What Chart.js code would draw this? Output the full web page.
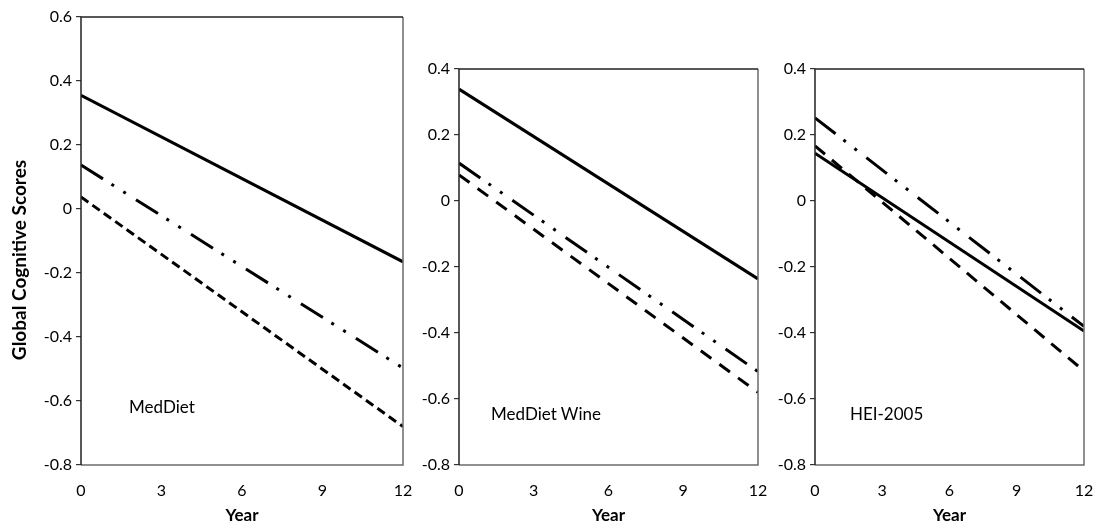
<!DOCTYPE html>
<html>
<head>
<meta charset="utf-8">
<script src="https://cdn.jsdelivr.net/npm/chart.js@4/dist/chart.umd.min.js"></script>
<style>
  body { margin:0; background:#fff; width:1099px; height:527px; position:relative; overflow:hidden; font-family: Lato, sans-serif; }
  canvas { position:absolute; top:0; }
  .lab { position:absolute; font-size:17px; color:#000; line-height:20px; }
</style>
</head>
<body>
<canvas id="c1" width="420" height="527" style="left:0px"></canvas>
<canvas id="c2" width="355" height="527" style="left:420px"></canvas>
<canvas id="c3" width="324" height="527" style="left:775px"></canvas>
<div class="lab" style="left:129px;top:397px">MedDiet</div>
<div class="lab" style="left:491px;top:404px">MedDiet Wine</div>
<div class="lab" style="left:850px;top:404px">HEI-2005</div>
<script>
// years of follow-up (line end points)
var years = [0, 12];
var xTicks = [0, 3, 6, 9, 12];

// MedDiet panel
var medSolid   = [0.355, -0.165];
var medDashDot = [0.1375, -0.497];
var medDashed  = [0.0375, -0.68];

// MedDiet Wine panel
var wineSolid   = [0.339, -0.236];
var wineDashDot = [0.115, -0.517];
var wineDashed  = [0.079, -0.58];

// HEI-2005 panel
var heiSolid   = [0.145, -0.394];
var heiDashDot = [0.252, -0.38];
var heiDashed  = [0.167, -0.515];

var boxPlugin = {
  id: 'box',
  afterDraw: function(chart) {
    var ctx = chart.ctx, a = chart.chartArea;
    ctx.save();
    ctx.lineWidth = 1.5;
    ctx.strokeStyle = '#6b6b6b';
    ctx.beginPath();
    ctx.moveTo(a.right, a.top); ctx.lineTo(a.right, a.bottom); ctx.lineTo(a.left, a.bottom);
    ctx.stroke();
    ctx.strokeStyle = '#222';
    ctx.beginPath();
    ctx.moveTo(a.left, a.bottom); ctx.lineTo(a.left, a.top); ctx.lineTo(a.right, a.top);
    ctx.stroke();
    // y axis title, only on the first panel
    if (chart.canvas.id === 'c1') {
      ctx.translate(20, 260);
      ctx.rotate(-Math.PI / 2);
      ctx.fillStyle = '#000';
      ctx.font = 'bold 19px Lato';
      ctx.textAlign = 'center';
      ctx.textBaseline = 'middle';
      ctx.fillText('Global Cognitive Scores', 0, 0);
    }
    ctx.restore();
  }
};

function ds(vals, dash) {
  return {
    data: years.map(function(x, i) { return {x: x, y: vals[i]}; }),
    borderColor: '#000',
    borderWidth: 3,
    borderDash: dash,
    borderCapStyle: 'butt',
    pointRadius: 0,
    fill: false,
    tension: 0
  };
}

function makeChart(id, sets, yMax, yWidth, pad) {
  var ctx = document.getElementById(id).getContext('2d');
  return new Chart(ctx, {
    type: 'line',
    data: { datasets: sets },
    plugins: [boxPlugin],
    options: {
      responsive: false,
      animation: false,
      layout: { padding: pad },
      plugins: { legend: { display: false }, tooltip: { enabled: false } },
      scales: {
        x: {
          type: 'linear', min: 0, max: 12,
          afterBuildTicks: function(s) { s.ticks = xTicks.map(function(v) { return {value: v}; }); },
          afterFit: function(s) { s.height = 62; s.paddingRight = 0; s.paddingLeft = 0; },
          grid: { display: false, drawTicks: false },
          border: { display: false },
          ticks: { color: '#000', font: { family: 'Lato', size: 16 }, padding: 16, maxRotation: 0 },
          title: { display: true, text: 'Year', color: '#000', font: { family: 'Lato', size: 17, weight: 'bold' }, padding: { top: 0, bottom: 1 } }
        },
        y: {
          min: -0.8, max: yMax,
          afterFit: function(s) { s.width = yWidth; },
          ticks: { stepSize: 0.2, color: '#000', font: { family: 'Lato', size: 16 }, padding: 4,
                   callback: function(v) { return String(Math.round(v * 10) / 10); } },
          grid: { drawOnChartArea: false, drawTicks: true, tickLength: 5, color: '#333', lineWidth: 1.2 },
          border: { display: false }
        }
      }
    }
  });
}

makeChart('c1', [ds(medSolid, []), ds(medDashDot, [26, 10, 3, 11, 3, 12]), ds(medDashed, [9, 5])],
  0.6, 81, { top: 17, right: 17, left: 0, bottom: 0 });
makeChart('c2', [ds(wineSolid, []), ds(wineDashDot, [26, 10, 3, 11, 3, 12]), ds(wineDashed, [13, 10])],
  0.4, 39, { top: 69, right: 17, left: 0, bottom: 0 });
makeChart('c3', [ds(heiSolid, []), ds(heiDashDot, [26, 10, 3, 11, 3, 12]), ds(heiDashed, [13, 9])],
  0.4, 40, { top: 69, right: 15, left: 0, bottom: 0 });
</script>
</body>
</html>
